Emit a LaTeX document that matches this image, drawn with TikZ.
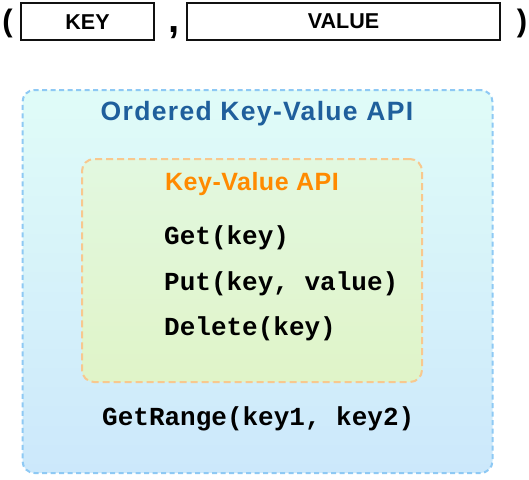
\documentclass[tikz,border=0pt]{standalone}
\usepackage{fontspec}
\setmainfont{Liberation Sans}
\setmonofont{Liberation Mono}
\usepackage{xcolor}
\usetikzlibrary{positioning}
\definecolor{ink}{HTML}{111111}
\definecolor{navy}{HTML}{1F5F9C}
\definecolor{amber}{HTML}{FF8A00}
\definecolor{skyline}{HTML}{8EC9F4}
\definecolor{skytop}{HTML}{E0FCF8}
\definecolor{skybot}{HTML}{CCE8FB}
\definecolor{peach}{HTML}{F8C88E}
\definecolor{leaftop}{HTML}{E2F8E0}
\definecolor{leafbot}{HTML}{E0F4C8}
\tikzset{
  field/.style={draw=ink, line width=2pt, fill=white, inner sep=0pt,
                minimum height=37pt, font=\fontsize{21.5}{24}\selectfont\bfseries},
  punct/.style={inner sep=0pt, font=\fontsize{31}{34}\selectfont\bfseries},
  panel/.style={rounded corners=12pt, line width=2pt, inner sep=0pt},
  call/.style={inner sep=0pt, anchor=base west, font=\fontsize{26}{30}\selectfont\ttfamily\bfseries},
  head/.style={inner sep=0pt, anchor=base, font=\fontsize{26}{30}\selectfont\bfseries},
}

\begin{document}
\begin{tikzpicture}[x=1pt, y=-1pt]
\useasboundingbox (0,0) rectangle (529,479);

% the pair
\node[punct] (lp) at (7.5,23) {(};
\node[field, minimum width=133pt] (key) at (87.5,21.7) {KEY};
\node[field, minimum width=313pt] (val) [right=31pt of key] {VALUE};
\node[punct, anchor=base, font=\fontsize{40}{40}\selectfont\bfseries] (comma) at (174,32) {,};
\node[punct] (rp) at (522,23) {)};

% nested APIs
\node[panel, draw=skyline, dash pattern=on 5pt off 3.5pt, top color=skytop, bottom color=skybot,
      minimum width=470pt, minimum height=383pt] (ordered) at (257.5,281.5) {};
\node[head, color=navy, font=\fontsize{26.5}{30}\selectfont\bfseries\addfontfeature{LetterSpace=5}]
      (otitle) at (257,120) {Ordered Key-Value API};

\node[panel, draw=peach, dash pattern=on 7pt off 4pt, top color=leaftop, bottom color=leafbot,
      minimum width=340pt, minimum height=223pt] (plain) at (252,270.5) {};
\node[head, color=amber, font=\fontsize{25}{30}\selectfont\bfseries\addfontfeature{LetterSpace=2}]
      (ptitle) at (252,190.7) {Key-Value API};

\node[call] (get) at (164,244) {Get(key)};
\node[call] (put) at (164,290) {Put(key, value)};
\node[call] (del) at (164,335) {Delete(key)};
\node[call] (range) at (102,425) {GetRange(key1, key2)};

\end{tikzpicture}
\end{document}
